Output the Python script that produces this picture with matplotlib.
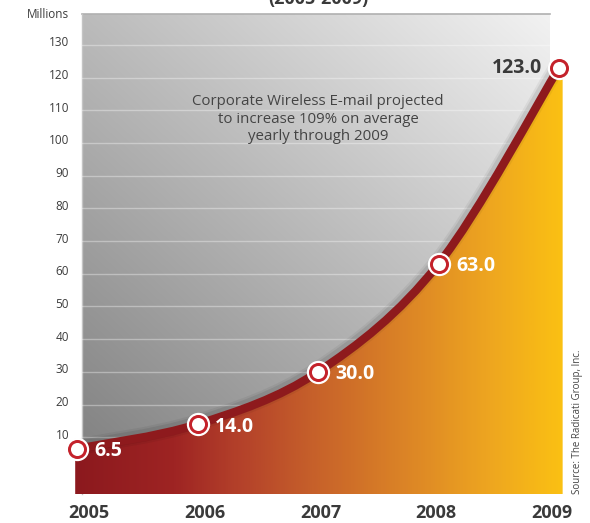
import numpy as np
import matplotlib
matplotlib.use("Agg")
import matplotlib.pyplot as plt
from matplotlib.path import Path
from matplotlib.patches import PathPatch
from matplotlib.colors import LinearSegmentedColormap
from matplotlib.transforms import ScaledTranslation

plt.rcParams['font.family'] = ['Open Sans', 'DejaVu Sans']

years = ["2005", "2006", "2007", "2008", "2009"]
values = [6.5, 14.0, 30.0, 63.0, 123.0]
value_labels = ["6.5", "14.0", "30.0", "63.0", "123.0"]
yticks = [10, 20, 30, 40, 50, 60, 70, 80, 90, 100, 110, 120, 130]
note = "Corporate Wireless E-mail projected\nto increase 109% on average\nyearly through 2009"
source = "Source: The Radicati Group, Inc."

x = np.arange(len(values))
y = np.array(values)

fig = plt.figure(figsize=(5.9, 5.23), dpi=100)
ax = fig.add_axes([0, 0, 1, 1])
ax.set_xlim(-0.639, 4.257)
ax.set_ylim(-16.2, 143.7)
ax.axis("off")

# plot area bounds (data units)
x0, x1 = 0.0415, 3.925
ybot, ytop = -7.34, 139.4

# gray diagonal gradient background
u = np.linspace(0, 1, 200)
v = np.linspace(0, 1, 200)
U, V = np.meshgrid(u, v)
gray = np.clip((125 + 55 * U + 62 * V) / 255.0, 0, 1)
ax.imshow(np.dstack([gray, gray, gray]), extent=[x0, x1, ybot, ytop],
          origin="lower", aspect="auto", zorder=1, interpolation="bilinear")
ax.plot([x0, x1], [ytop, ytop], color="#b0b0b0", lw=1.2, zorder=2)
ax.plot([x0, x0], [ybot, ytop], color="#c4c4c4", lw=1.0, zorder=2)

# gridlines and y labels
for t in yticks:
    ax.plot([x0, x1], [t, t], color="white", alpha=0.35, lw=1.0, zorder=2)
    ax.text(-0.065, t + 0.6, str(t), ha="right", va="center",
            fontsize=8.5, color="#3c3c3c")
ax.text(-0.065, ytop, "Millions", ha="right", va="center",
        fontsize=8.5, color="#3c3c3c")

# smooth curve through the points (Catmull-Rom as cubic Bezier)
pts = np.column_stack([x, y])
ext = np.vstack([pts[0], pts, pts[-1]])
verts = [pts[0]]
codes = [Path.MOVETO]
for i in range(len(pts) - 1):
    p0, p1, p2, p3 = ext[i], ext[i + 1], ext[i + 2], ext[i + 3]
    verts += [p1 + (p2 - p0) / 6.0, p2 - (p3 - p1) / 6.0, p2]
    codes += [Path.CURVE4] * 3
curve = Path(verts, codes)

fill_path = Path(verts + [(x[-1] + 0.03, y[-1] - 3), (x[-1] + 0.03, ybot),
                          (x[0] - 0.015, ybot), (x[0] - 0.015, y[0])],
                 codes + [Path.LINETO] * 4)
fill_patch = PathPatch(fill_path, facecolor="none", edgecolor="none")
ax.add_patch(fill_patch)

fill_cmap = LinearSegmentedColormap.from_list(
    "fill", [(0.0, "#8c191e"), (0.2, "#9e2423"), (0.33, "#b3402a"),
             (0.5, "#c8632a"), (0.68, "#dc8526"), (0.85, "#eea620"),
             (1.0, "#fbc113")])
grad = np.linspace(0, 1, 300).reshape(1, -1)
im = ax.imshow(grad, cmap=fill_cmap, extent=[x[0] - 0.02, x[-1] + 0.04, ybot, y[-1]],
               aspect="auto", zorder=3, interpolation="bilinear")
im.set_clip_path(fill_patch)

# soft shadow and line
for lw, a in [(12, 0.05), (9, 0.08)]:
    sh = PathPatch(curve, facecolor="none", edgecolor="black", lw=lw, alpha=a,
                   zorder=3.5, capstyle="butt")
    sh.set_transform(ax.transData + ScaledTranslation(-1.5 / 100, 1.5 / 100,
                                                      fig.dpi_scale_trans))
    ax.add_patch(sh)
ax.add_patch(PathPatch(curve, facecolor="none", edgecolor="#8e1a1d", lw=6,
                       zorder=4, capstyle="round"))

# markers
ax.scatter(x, y, s=16.8 ** 2, color="white", zorder=5, linewidths=0)
ax.scatter(x, y, s=13.7 ** 2, color="#c4222b", zorder=6, linewidths=0)
ax.scatter(x, y, s=9.4 ** 2, color="white", zorder=7, linewidths=0)

# value labels
for i, (xi, yi, lab) in enumerate(zip(x, y, value_labels)):
    if i == len(x) - 1:
        ax.text(xi - 0.14, yi, lab, ha="right", va="center", fontsize=14,
                fontweight="bold", color="#3a3a3a", zorder=8)
    else:
        ax.text(xi + 0.145, yi - 0.7, lab, ha="left", va="center", fontsize=14,
                fontweight="bold", color="white", zorder=8)

# year labels
for i, yr in enumerate(years):
    ax.text(0.1 + i * 0.96, -13.1, yr, ha="center", va="center", fontsize=13,
            fontweight="bold", color="#3a3a3a")

# note and source
ax.text(2.0, 107.3, note, ha="center", va="center", fontsize=10.8,
        color="#444444", linespacing=1.2)
ax.text(4.155, -7.2, source, rotation=90, ha="center", va="bottom",
        fontsize=7, color="#444444")

# title (cut off at top, as in the original)
ax.text(2.0, 143.7 + 0.4, "(2005-2009)", ha="center", va="center",
        fontsize=13, fontweight="bold", color="#3a3a3a")

fig.savefig("out.png", dpi=100)
plt.close(fig)
